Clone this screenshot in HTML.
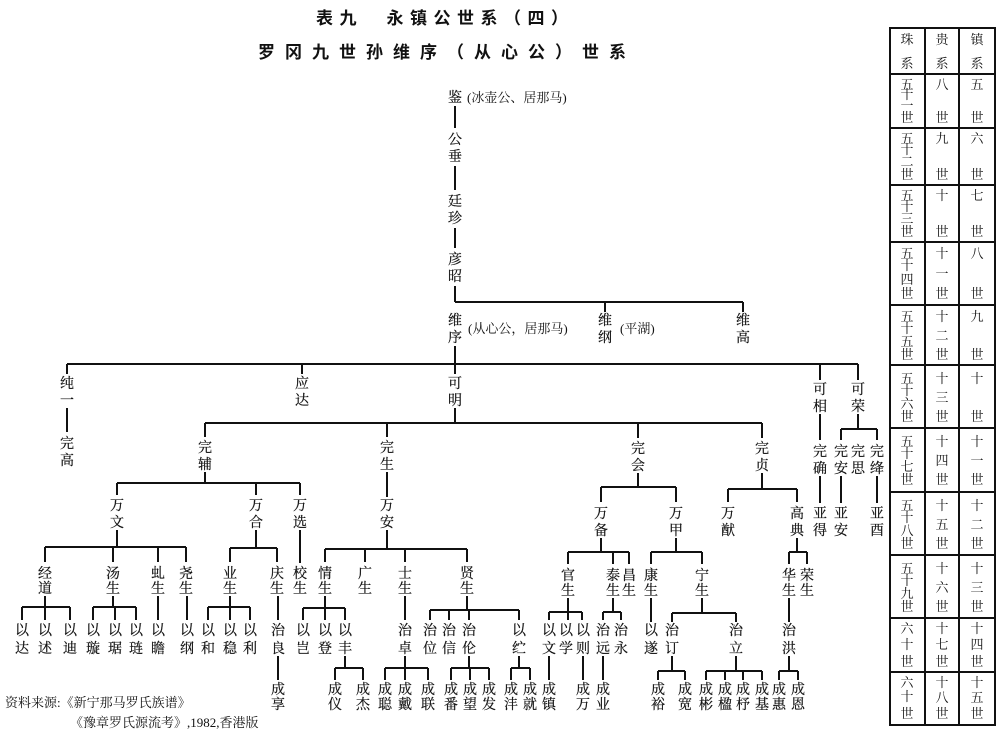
<!DOCTYPE html>
<html><head><meta charset="utf-8">
<style>
html,body{margin:0;padding:0;background:#fff;}
body{width:1000px;height:745px;position:relative;overflow:hidden;}
svg{position:absolute;left:0;top:0;}
.n{font-family:"Liberation Serif","Noto Serif CJK SC",serif;font-size:14px;fill:#111;text-anchor:middle;stroke:#111;stroke-width:0.2;}
.s{font-family:"Liberation Serif","Noto Serif CJK SC",serif;font-size:13px;fill:#111;}
.t{font-family:"Liberation Sans","Noto Sans CJK SC",sans-serif;font-size:17px;font-weight:bold;fill:#111;}
.c{font-family:"Liberation Serif","Noto Serif CJK SC",serif;font-size:13px;fill:#111;text-anchor:middle;}
</style></head><body>
<svg width="1000" height="745" viewBox="0 0 1000 745">
<text class="t" x="316" y="24" letter-spacing="6.5">表九　永镇公世系（四）</text>
<text class="t" x="258" y="58" letter-spacing="10">罗冈九世孙维序（从心公）世系</text>

<g stroke="#111" stroke-width="2" fill="none">
<path d="M455 106V128M455 166V190M455 228V248M455 286V302M455 302H743M605 302V312M743 302V312M455 346V364"/>
<path d="M67 364H858M67 364V374M302 364V374M455 364V374M820 364V380M858 364V380"/>
<path d="M67 408V432M455 408V423M205 423H762M205 423V437M387 423V437M638 423V438M762 423V438"/>
<path d="M820 414V440M858 414V429M841 429H877M841 429V440M877 429V440M820 476V503M841 476V503M877 476V503"/>
<path d="M205 472V483M117 483H300M117 483V495M256 483V495M300 483V495M387 472V497"/>
<path d="M638 473V487M601 487H676M601 487V502M676 487V502M762 473V489M728 489H797M728 489V502M797 489V502"/>
<path d="M117 530V547M45 547H186M45 547V562M113 547V562M158 547V562M186 547V562"/>
<path d="M256 530V548M230 548H277M230 548V562M277 548V562M300 530V563"/>
<path d="M387 530V549M325 549H467M325 549V562M365 549V562M405 549V562M467 549V562"/>
<path d="M601 538V552M568 552H629M568 552V564M613 552V564M629 552V564"/>
<path d="M676 538V552M651 552H702M651 552V564M702 552V564"/>
<path d="M797 538V552M789 552H807M789 552V564M807 552V564"/>
<path d="M45 596V607M22 607H70M22 607V620M45 607V620M70 607V620"/>
<path d="M113 596V607M93 607H136M93 607V620M115 607V620M136 607V620"/>
<path d="M158 596V620M187 596V620"/>
<path d="M230 596V607M208 607H250M208 607V620M230 607V620M250 607V620"/>
<path d="M278 596V620M278 656V680"/>
<path d="M325 596V608M303 608H345M303 608V620M325 608V620M345 608V620"/>
<path d="M345 656V668M335 668H363M335 668V680M363 668V680"/>
<path d="M405 596V620M405 656V668M385 668H428M385 668V680M405 668V680M428 668V680"/>
<path d="M467 596V610M430 610H519M430 610V620M449 610V620M469 610V620M519 610V620"/>
<path d="M469 656V668M451 668H489M451 668V680M470 668V680M489 668V680"/>
<path d="M519 656V668M511 668H530M511 668V680M530 668V680"/>
<path d="M568 598V612M549 612H582M549 612V620M568 612V620M582 612V620M549 656V680M583 656V680"/>
<path d="M613 598V612M603 612H621M603 612V620M621 612V620M603 656V680"/>
<path d="M651 598V622M702 598V613M672 613H736M672 613V622M736 613V622"/>
<path d="M672 656V671M658 671H685M658 671V680M685 671V680"/>
<path d="M736 656V671M706 671H762M706 671V680M725 671V680M743 671V680M762 671V680"/>
<path d="M789 598V622M789 656V671M779 671H798M779 671V680M798 671V680"/>
</g>

<g class="n">
<text x="455" y="102">鉴</text>
<text x="455" y="144">公<tspan x="455" dy="17">垂</tspan></text>
<text x="455" y="206">廷<tspan x="455" dy="17">珍</tspan></text>
<text x="455" y="264">彦<tspan x="455" dy="17">昭</tspan></text>
<text x="455" y="325">维<tspan x="455" dy="17">序</tspan></text>
<text x="605" y="325">维<tspan x="605" dy="17">纲</tspan></text>
<text x="743" y="325">维<tspan x="743" dy="17">高</tspan></text>

<text x="67" y="388">纯<tspan x="67" dy="17">一</tspan></text>
<text x="302" y="388">应<tspan x="302" dy="17">达</tspan></text>
<text x="455" y="388">可<tspan x="455" dy="17">明</tspan></text>
<text x="820" y="394">可<tspan x="820" dy="17">相</tspan></text>
<text x="858" y="394">可<tspan x="858" dy="17">荣</tspan></text>
<text x="67" y="448">完<tspan x="67" dy="17">高</tspan></text>

<text x="205" y="452">完<tspan x="205" dy="17">辅</tspan></text>
<text x="387" y="452">完<tspan x="387" dy="17">生</tspan></text>
<text x="638" y="453">完<tspan x="638" dy="17">会</tspan></text>
<text x="762" y="453">完<tspan x="762" dy="17">贞</tspan></text>
<text x="820" y="456">完<tspan x="820" dy="17">确</tspan></text>
<text x="841" y="456">完<tspan x="841" dy="17">安</tspan></text>
<text x="858" y="456">完<tspan x="858" dy="17">思</tspan></text>
<text x="877" y="456">完<tspan x="877" dy="17">绛</tspan></text>
<text x="820" y="518">亚<tspan x="820" dy="17">得</tspan></text>
<text x="841" y="518">亚<tspan x="841" dy="17">安</tspan></text>
<text x="877" y="518">亚<tspan x="877" dy="17">酉</tspan></text>

<text x="117" y="510">万<tspan x="117" dy="17">文</tspan></text>
<text x="256" y="510">万<tspan x="256" dy="17">合</tspan></text>
<text x="300" y="510">万<tspan x="300" dy="17">选</tspan></text>
<text x="387" y="510">万<tspan x="387" dy="17">安</tspan></text>
<text x="601" y="518">万<tspan x="601" dy="17">备</tspan></text>
<text x="676" y="518">万<tspan x="676" dy="17">甲</tspan></text>
<text x="728" y="518">万<tspan x="728" dy="17">猷</tspan></text>
<text x="797" y="518">高<tspan x="797" dy="17">典</tspan></text>

<text x="45" y="578">经<tspan x="45" dy="15">道</tspan></text>
<text x="113" y="578">汤<tspan x="113" dy="15">生</tspan></text>
<text x="158" y="578">虬<tspan x="158" dy="15">生</tspan></text>
<text x="186" y="578">尧<tspan x="186" dy="15">生</tspan></text>
<text x="230" y="578">业<tspan x="230" dy="15">生</tspan></text>
<text x="277" y="578">庆<tspan x="277" dy="15">生</tspan></text>
<text x="300" y="578">校<tspan x="300" dy="15">生</tspan></text>
<text x="325" y="578">情<tspan x="325" dy="15">生</tspan></text>
<text x="365" y="578">广<tspan x="365" dy="15">生</tspan></text>
<text x="405" y="578">士<tspan x="405" dy="15">生</tspan></text>
<text x="467" y="578">贤<tspan x="467" dy="15">生</tspan></text>
<text x="568" y="580">官<tspan x="568" dy="15">生</tspan></text>
<text x="613" y="580">泰<tspan x="613" dy="15">生</tspan></text>
<text x="629" y="580">昌<tspan x="629" dy="15">生</tspan></text>
<text x="651" y="580">康<tspan x="651" dy="15">生</tspan></text>
<text x="702" y="580">宁<tspan x="702" dy="15">生</tspan></text>
<text x="789" y="580">华<tspan x="789" dy="15">生</tspan></text>
<text x="807" y="580">荣<tspan x="807" dy="15">生</tspan></text>

<text x="22" y="635">以<tspan x="22" dy="18">达</tspan></text>
<text x="45" y="635">以<tspan x="45" dy="18">述</tspan></text>
<text x="70" y="635">以<tspan x="70" dy="18">迪</tspan></text>
<text x="93" y="635">以<tspan x="93" dy="18">璇</tspan></text>
<text x="115" y="635">以<tspan x="115" dy="18">琚</tspan></text>
<text x="136" y="635">以<tspan x="136" dy="18">琏</tspan></text>
<text x="158" y="635">以<tspan x="158" dy="18">瞻</tspan></text>
<text x="187" y="635">以<tspan x="187" dy="18">纲</tspan></text>
<text x="208" y="635">以<tspan x="208" dy="18">和</tspan></text>
<text x="230" y="635">以<tspan x="230" dy="18">稳</tspan></text>
<text x="250" y="635">以<tspan x="250" dy="18">利</tspan></text>
<text x="278" y="635">治<tspan x="278" dy="18">良</tspan></text>
<text x="303" y="635">以<tspan x="303" dy="18">岂</tspan></text>
<text x="325" y="635">以<tspan x="325" dy="18">登</tspan></text>
<text x="345" y="635">以<tspan x="345" dy="18">丰</tspan></text>
<text x="405" y="635">治<tspan x="405" dy="18">卓</tspan></text>
<text x="430" y="635">治<tspan x="430" dy="18">位</tspan></text>
<text x="449" y="635">治<tspan x="449" dy="18">信</tspan></text>
<text x="469" y="635">治<tspan x="469" dy="18">伦</tspan></text>
<text x="519" y="635">以<tspan x="519" dy="18">纻</tspan></text>
<text x="549" y="635">以<tspan x="549" dy="18">文</tspan></text>
<text x="566" y="635">以<tspan x="566" dy="18">学</tspan></text>
<text x="583" y="635">以<tspan x="583" dy="18">则</tspan></text>
<text x="603" y="635">治<tspan x="603" dy="18">远</tspan></text>
<text x="621" y="635">治<tspan x="621" dy="18">永</tspan></text>
<text x="651" y="635">以<tspan x="651" dy="18">遂</tspan></text>
<text x="672" y="635">治<tspan x="672" dy="18">订</tspan></text>
<text x="736" y="635">治<tspan x="736" dy="18">立</tspan></text>
<text x="789" y="635">治<tspan x="789" dy="18">洪</tspan></text>

<text x="278" y="694">成<tspan x="278" dy="15">享</tspan></text>
<text x="335" y="694">成<tspan x="335" dy="15">仪</tspan></text>
<text x="363" y="694">成<tspan x="363" dy="15">杰</tspan></text>
<text x="385" y="694">成<tspan x="385" dy="15">聪</tspan></text>
<text x="405" y="694">成<tspan x="405" dy="15">戴</tspan></text>
<text x="428" y="694">成<tspan x="428" dy="15">联</tspan></text>
<text x="451" y="694">成<tspan x="451" dy="15">番</tspan></text>
<text x="470" y="694">成<tspan x="470" dy="15">望</tspan></text>
<text x="489" y="694">成<tspan x="489" dy="15">发</tspan></text>
<text x="511" y="694">成<tspan x="511" dy="15">沣</tspan></text>
<text x="530" y="694">成<tspan x="530" dy="15">就</tspan></text>
<text x="549" y="694">成<tspan x="549" dy="15">镇</tspan></text>
<text x="583" y="694">成<tspan x="583" dy="15">万</tspan></text>
<text x="603" y="694">成<tspan x="603" dy="15">业</tspan></text>
<text x="658" y="694">成<tspan x="658" dy="15">裕</tspan></text>
<text x="685" y="694">成<tspan x="685" dy="15">宽</tspan></text>
<text x="706" y="694">成<tspan x="706" dy="15">彬</tspan></text>
<text x="725" y="694">成<tspan x="725" dy="15">楹</tspan></text>
<text x="743" y="694">成<tspan x="743" dy="15">杼</tspan></text>
<text x="762" y="694">成<tspan x="762" dy="15">基</tspan></text>
<text x="779" y="694">成<tspan x="779" dy="15">惠</tspan></text>
<text x="798" y="694">成<tspan x="798" dy="15">恩</tspan></text>
</g>

<text class="s" x="467" y="102">(冰壶公、居那马)</text>
<text class="s" x="468" y="333">(从心公，居那马)</text>
<text class="s" x="620" y="333">(平湖)</text>
<text class="s" x="5" y="707">资料来源:《新宁那马罗氏族谱》</text>
<text class="s" x="70" y="727">《豫章罗氏源流考》,1982,香港版</text>

<g stroke="#111" stroke-width="2" fill="none">
<rect x="890" y="28" width="105" height="697"/>
<path d="M925 28V725M959 28V725"/>
<path d="M890 74H995M890 128H995M890 185H995M890 242H995M890 305H995M890 365H995M890 428H995M890 492H995M890 555H995M890 618H995M890 672H995"/>
</g>
<g class="c">
<text x="907" y="44">珠</text><text x="907" y="68">系</text>
<text x="942" y="44">贵</text><text x="942" y="68">系</text>
<text x="977" y="44">镇</text><text x="977" y="68">系</text>

<text x="907" y="89">五</text><text x="907" y="99">十</text><text x="907" y="110">一</text><text x="907" y="122">世</text>
<text x="942" y="89">八</text><text x="942" y="122">世</text>
<text x="977" y="89">五</text><text x="977" y="122">世</text>

<text x="907" y="143">五</text><text x="907" y="154">十</text><text x="907" y="166">二</text><text x="907" y="179">世</text>
<text x="942" y="143">九</text><text x="942" y="179">世</text>
<text x="977" y="143">六</text><text x="977" y="179">世</text>

<text x="907" y="200">五</text><text x="907" y="211">十</text><text x="907" y="223">三</text><text x="907" y="236">世</text>
<text x="942" y="200">十</text><text x="942" y="236">世</text>
<text x="977" y="200">七</text><text x="977" y="236">世</text>

<text x="907" y="258">五</text><text x="907" y="270">十</text><text x="907" y="284">四</text><text x="907" y="298">世</text>
<text x="942" y="258">十</text><text x="942" y="278">一</text><text x="942" y="298">世</text>
<text x="977" y="258">八</text><text x="977" y="298">世</text>

<text x="907" y="321">五</text><text x="907" y="333">十</text><text x="907" y="346">五</text><text x="907" y="359">世</text>
<text x="942" y="321">十</text><text x="942" y="340">二</text><text x="942" y="359">世</text>
<text x="977" y="321">九</text><text x="977" y="359">世</text>

<text x="907" y="383">五</text><text x="907" y="395">十</text><text x="907" y="408">六</text><text x="907" y="421">世</text>
<text x="942" y="383">十</text><text x="942" y="402">三</text><text x="942" y="421">世</text>
<text x="977" y="383">十</text><text x="977" y="421">世</text>

<text x="907" y="446">五</text><text x="907" y="458">十</text><text x="907" y="471">七</text><text x="907" y="484">世</text>
<text x="942" y="446">十</text><text x="942" y="465">四</text><text x="942" y="484">世</text>
<text x="977" y="446">十</text><text x="977" y="465">一</text><text x="977" y="484">世</text>

<text x="907" y="510">五</text><text x="907" y="522">十</text><text x="907" y="535">八</text><text x="907" y="548">世</text>
<text x="942" y="510">十</text><text x="942" y="529">五</text><text x="942" y="548">世</text>
<text x="977" y="510">十</text><text x="977" y="529">二</text><text x="977" y="548">世</text>

<text x="907" y="573">五</text><text x="907" y="585">十</text><text x="907" y="598">九</text><text x="907" y="611">世</text>
<text x="942" y="573">十</text><text x="942" y="592">六</text><text x="942" y="611">世</text>
<text x="977" y="573">十</text><text x="977" y="592">三</text><text x="977" y="611">世</text>

<text x="907" y="633">六</text><text x="907" y="649">十</text><text x="907" y="666">世</text>
<text x="942" y="633">十</text><text x="942" y="649">七</text><text x="942" y="666">世</text>
<text x="977" y="633">十</text><text x="977" y="649">四</text><text x="977" y="666">世</text>

<text x="907" y="687">六</text><text x="907" y="701">十</text><text x="907" y="718">世</text>
<text x="942" y="687">十</text><text x="942" y="702">八</text><text x="942" y="718">世</text>
<text x="977" y="687">十</text><text x="977" y="702">五</text><text x="977" y="718">世</text>
</g>
</svg>
</body></html>
